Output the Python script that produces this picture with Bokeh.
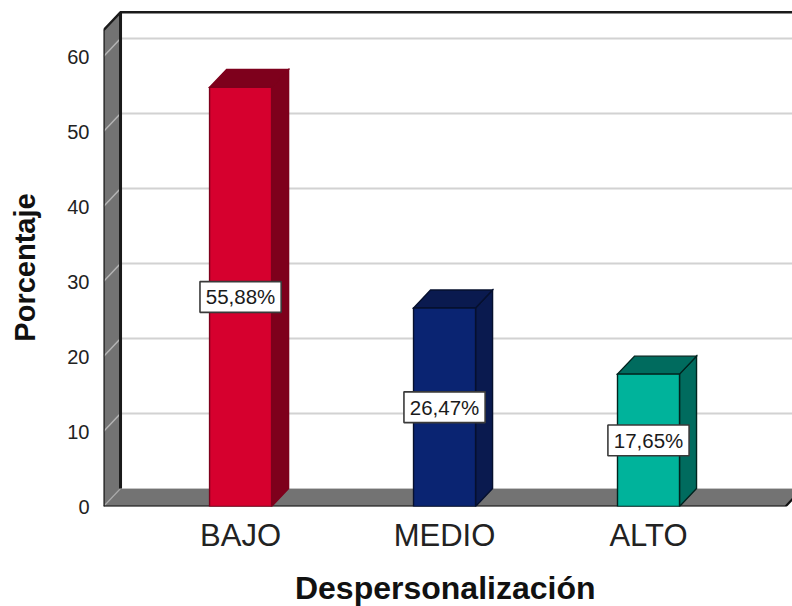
from math import pi

from bokeh.core.properties import value
from bokeh.embed import file_html
from bokeh.layouts import column, row
from bokeh.models import FixedTicker, Range1d
from bokeh.plotting import figure
from bokeh.resources import INLINE

categories = ["BAJO", "MEDIO", "ALTO"]
percentages = [55.88, 26.47, 17.65]
labels = ["55,88%", "26,47%", "17,65%"]
y_ticks = [0, 10, 20, 30, 40, 50, 60]

front_colors = ["#d6002e", "#0a2472", "#00b39b"]
shade_colors = ["#7e001c", "#0a1a4f", "#006b5e"]
edge_colors = ["#7e001c", "#06102e", "#00231e"]

# The box is drawn in oblique projection: the depth is an offset in data units.
depth_x = 0.0835
depth_y = 2.4
half_bar = 0.152
x_min, x_max = -0.672, 2.706
y_max = 67.47
wall_top = 63.5
floor_end = 2.672

p = figure(width=742, height=565, output_backend="svg", toolbar_location=None,
           x_range=Range1d(x_min, x_max), y_range=Range1d(0, y_max),
           min_border_left=53, min_border_bottom=59, min_border_top=0, min_border_right=0,
           outline_line_color=None, background_fill_color="white")
p.grid.visible = False

# x axis
p.xaxis.ticker = FixedTicker(ticks=list(range(len(categories))))
p.xaxis.major_label_overrides = {i: c for i, c in enumerate(categories)}
p.xaxis.major_label_text_font = "Liberation Sans"
p.xaxis.major_label_text_font_size = "31px"
p.xaxis.major_label_text_color = "#222222"
p.xaxis.major_label_standoff = 5
p.xaxis.axis_line_color = None
p.xaxis.major_tick_line_color = None
p.xaxis.minor_tick_line_color = None

# y axis
p.yaxis.ticker = FixedTicker(ticks=y_ticks)
p.yaxis.major_label_text_font = "Liberation Sans"
p.yaxis.major_label_text_font_size = "20px"
p.yaxis.major_label_text_color = "#222222"
p.yaxis.major_label_standoff = 8
p.yaxis.axis_line_color = None
p.yaxis.major_tick_line_color = None
p.yaxis.minor_tick_line_color = None

# Back wall gridlines
for t in y_ticks[1:]:
    p.line([x_min + depth_x, x_max], [t + depth_y, t + depth_y], line_color="#d2d2d2", line_width=2)

# Left wall and floor
wall_color = "#737373"
p.patch([x_min, x_min + depth_x, x_min + depth_x, x_min],
        [0, depth_y, wall_top + depth_y, wall_top],
        fill_color=wall_color, line_color=None)
p.patch([x_min, x_min + depth_x, floor_end + depth_x, floor_end],
        [0, depth_y, depth_y, 0],
        fill_color=wall_color, line_color=None)
for t in y_ticks[1:]:
    p.line([x_min, x_min + depth_x], [t, t + depth_y], line_color="#b4b4b4", line_width=1.5)
p.line([x_min, x_min + depth_x], [0, depth_y], line_color="#a8a8a8", line_width=1.2)
p.line([x_min + depth_x, x_max], [depth_y, depth_y], line_color="#c4c4c4", line_width=1.2)

# Box edges
p.line([x_min, x_min, x_min + depth_x, x_max], [0, wall_top, wall_top + depth_y, wall_top + depth_y],
       line_color="#1a1a1a", line_width=2.4, line_join="miter")
p.line([x_min + depth_x, x_min + depth_x], [depth_y, wall_top + depth_y], line_color="#1a1a1a", line_width=3)
p.line([x_min, floor_end, floor_end + depth_x], [0, 0, depth_y], line_color="#111111", line_width=2.2)

# Bars: side face, top face, front face
for i, pct in enumerate(percentages):
    x0, x1 = i - half_bar, i + half_bar
    style = dict(line_color=edge_colors[i], line_width=1.4, line_join="miter")
    p.patch([x1, x1 + depth_x, x1 + depth_x, x1], [0, depth_y, pct + depth_y, pct],
            fill_color=shade_colors[i], **style)
    p.patch([x0, x1, x1 + depth_x, x0 + depth_x], [pct, pct, pct + depth_y, pct + depth_y],
            fill_color=shade_colors[i], **style)
    p.patch([x0, x1, x1, x0], [0, 0, pct, pct], fill_color=front_colors[i], **style)

# Value boxes centred on the front face
mid_values = [v / 2 for v in percentages]
p.rect(list(range(3)), mid_values, width=0.398, height=4.1,
       fill_color="white", line_color="#3a3a3a", line_width=1.6)
p.text(list(range(3)), mid_values, text=labels, text_align="center", text_baseline="middle",
       text_font=value("Liberation Sans"), text_font_size="20.5px", text_color="#1a1a1a")


def title_strip(width, height, x_range, y_range, x, y, text, size, angle):
    """A bare strip that holds one axis title beside the chart."""
    s = figure(width=width, height=height, output_backend="svg", toolbar_location=None,
               x_range=Range1d(*x_range), y_range=Range1d(*y_range),
               x_axis_location=None, y_axis_location=None,
               min_border=0, outline_line_color=None, background_fill_color="white")
    s.grid.visible = False
    s.text([x], [y], text=[text], angle=angle, text_align="center", text_baseline="middle",
           text_font=value("Liberation Sans"), text_font_style="bold",
           text_font_size=size, text_color="#111111")
    return s


y_title = title_strip(50, 606, (0, 50), (606, 0), 24, 267, "Porcentaje", "29px", pi / 2)
x_title = title_strip(742, 41, (50, 792), (606, 565), 418, 587, "Despersonalización", "32px", 0)

layout = row(y_title, column(p, x_title, spacing=0), spacing=0)

open("out.html", "w").write(file_html(layout, INLINE))
